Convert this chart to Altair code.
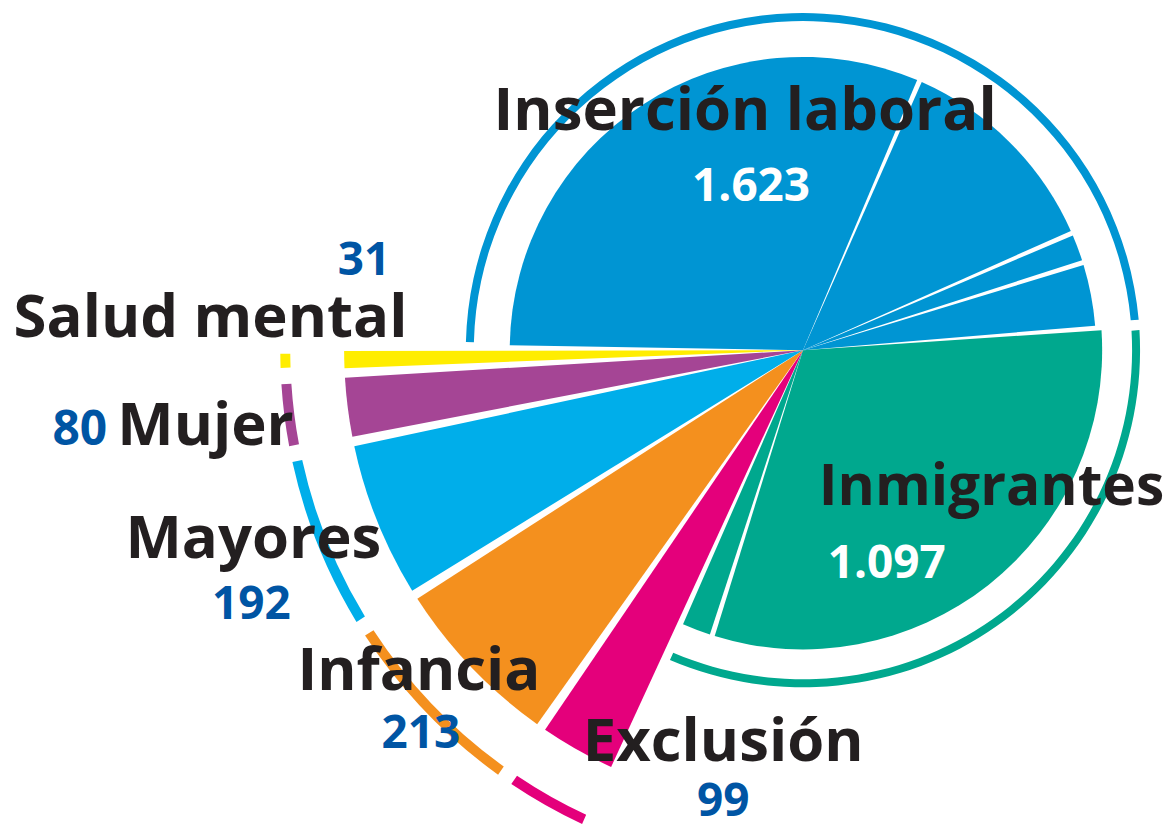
import math
import altair as alt
import pandas as pd

# ---- data ----
categories = ["Inserción laboral", "Inmigrantes", "Exclusión", "Infancia",
              "Mayores", "Mujer", "Salud mental"]
values = [1623, 1097, 99, 213, 192, 80, 31]
colors = ["#0095D3", "#00A88E", "#E4007B", "#F4901E", "#00AEEA", "#A54595", "#FFED00"]

# sub-wedges visible inside the two big slices (estimated)
slice_cat = ["Inserción laboral"] * 4 + ["Inmigrantes"] * 2 + [
    "Exclusión", "Infancia", "Mayores", "Mujer", "Salud mental"]
slice_values = [1046, 399, 57, 121, 1037, 60, 99, 213, 192, 80, 31]

value_labels = [f"{v:,}".replace(",", ".") for v in values]

# ---- layout ----
W, H = 1160, 826
CX, CY = 797, 342
total = sum(values)
start = math.radians(-89.5)
theta_scale = alt.Scale(domain=[0, total], range=[start, start + 2 * math.pi])
color_scale = alt.Scale(domain=categories, range=colors)
is_big = "indexof(['Inserción laboral','Inmigrantes'], datum.cat) >= 0"
r_expr = ("datum.cat === 'Inserción laboral' ? 294 : "
          "(datum.cat === 'Inmigrantes' ? 300 : 460)")

slices = pd.DataFrame({"cat": slice_cat, "value": slice_values,
                       "idx": list(range(len(slice_values)))})
cats = pd.DataFrame({"cat": categories, "value": values,
                     "idx": list(range(len(values)))})


def cumulative(chart):
    return chart.transform_window(
        cum_end="sum(value)", sort=[alt.SortField("idx")], frame=[None, 0]
    ).transform_calculate(cum_start="datum.cum_end - datum.value")


def pie_part(filter_expr, pad):
    return cumulative(alt.Chart(slices)).transform_calculate(
        r=r_expr
    ).transform_filter(filter_expr).mark_arc(padAngle=pad).encode(
        theta=alt.Theta("cum_start:Q", scale=theta_scale),
        theta2=alt.Theta2("cum_end:Q"),
        color=alt.Color("cat:N", scale=color_scale, legend=None),
        radius=alt.Radius("r:Q", scale=None),
        x=alt.value(CX), y=alt.value(CY),
    )


pie_big = pie_part(is_big, 0.017)
pie_small = pie_part(f"!({is_big})", 0.021)

ring = cumulative(alt.Chart(cats)).transform_calculate(
    r1=f"{is_big} ? 330 : 514",
    r2=f"{is_big} ? 338 : 524",
).mark_arc(padAngle=0.022).encode(
    theta=alt.Theta("cum_start:Q", scale=theta_scale),
    theta2=alt.Theta2("cum_end:Q"),
    color=alt.Color("cat:N", scale=color_scale, legend=None),
    radius=alt.Radius("r2:Q", scale=None),
    radius2=alt.Radius2("r1:Q"),
    x=alt.value(CX), y=alt.value(CY),
)

DARK = "#231F20"
BLUE = "#0055A4"
FONT = "Open Sans"


def label(text, x, y, size, color):
    return alt.Chart(pd.DataFrame({"t": [text]})).mark_text(
        font=FONT, fontWeight="bold", fontSize=size, color=color,
        align="center", baseline="alphabetic",
    ).encode(x=alt.value(x), y=alt.value(y), text="t:N")


NAME = 60
NUM = 46
layers = [
    pie_big, pie_small, ring,
    label(categories[0], 739, 121, NAME, DARK),
    label(value_labels[0], 745, 192, NUM, "white"),
    label(categories[1], 986, 497, 57, DARK),
    label(value_labels[1], 881, 570, NUM, "white"),
    label(categories[2], 717, 754, NAME, DARK),
    label(value_labels[2], 717, 809, NUM, BLUE),
    label(categories[3], 412, 683, NAME, DARK),
    label(value_labels[3], 414, 741, NUM, BLUE),
    label(categories[4], 246, 550, NAME, DARK),
    label(value_labels[4], 244, 612, NUM, BLUE),
    label(categories[5], 198, 437, NAME, DARK),
    label(value_labels[5], 72, 437, 48, BLUE),
    label(categories[6], 203, 329, NAME, DARK),
    label(value_labels[6], 357, 267, NUM, BLUE),
]

chart = alt.layer(*layers).properties(
    width=W, height=H, padding=0, autosize="none", background="white"
).configure_view(stroke=None)

chart.save("out.html", embed_options={"renderer": "svg", "actions": False})
